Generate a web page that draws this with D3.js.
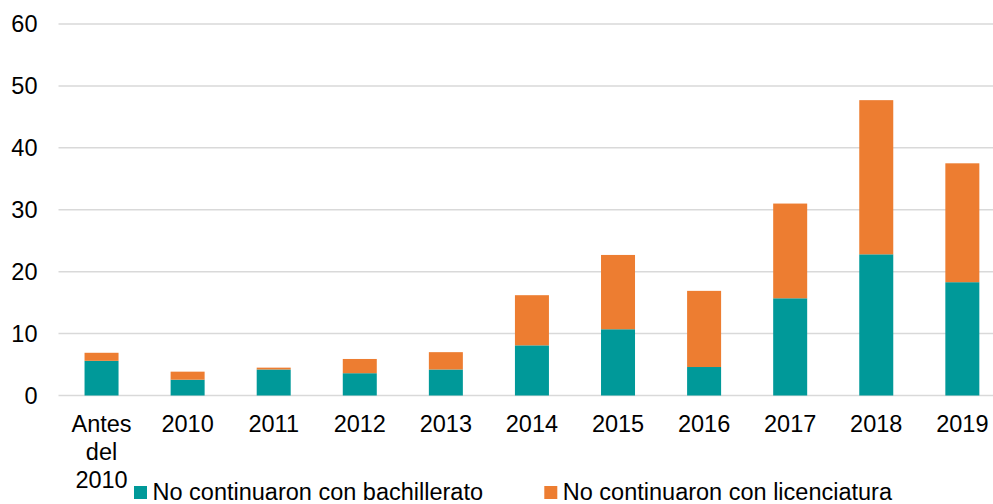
<html>
<head>
<style>
  body { margin: 0; background: #fff; }
  svg text { font-family: Arial, "Liberation Sans", sans-serif; fill: #000; }
</style>
</head>
<body>
<script src="https://cdn.jsdelivr.net/npm/d3@7"></script>
<script>
var categories = ["Antes del 2010", "2010", "2011", "2012", "2013", "2014", "2015", "2016", "2017", "2018", "2019"];
var bachillerato = [5.6, 2.55, 4.2, 3.6, 4.2, 8.1, 10.7, 4.6, 15.7, 22.8, 18.3];
var licenciatura = [1.3, 1.3, 0.3, 2.3, 2.8, 8.1, 12.0, 12.3, 15.3, 24.9, 19.2];
var seriesNames = ["No continuaron con bachillerato", "No continuaron con licenciatura"];
var yTicks = [0, 10, 20, 30, 40, 50, 60];

var width = 993, height = 504;
var colors = ["#009999", "#ED7D31"];
var fontSize = 23.5;

var svg = d3.select("body").append("svg")
  .attr("width", width)
  .attr("height", height);

var x = d3.scaleBand()
  .domain(categories)
  .range([58.5, 58.5 + 86.08 * 11])
  .paddingInner(0.605)
  .paddingOuter(0.3025);

var y = d3.scaleLinear().domain([0, 60]).range([395.5, 24]);

// grid
svg.append("g").selectAll("line")
  .data(yTicks)
  .join("line")
  .attr("x1", 58.5).attr("x2", width)
  .attr("y1", d => y(d)).attr("y2", d => y(d))
  .attr("stroke", "#d9d9d9")
  .attr("stroke-width", 1.5);

// y labels
svg.append("g").selectAll("text")
  .data(yTicks)
  .join("text")
  .attr("x", 37.5)
  .attr("y", d => y(d) + 8.4)
  .attr("text-anchor", "end")
  .attr("font-size", fontSize)
  .text(d => d);

// stacked bars
var rows = categories.map((c, i) => ({cat: c, b: bachillerato[i], l: licenciatura[i]}));
var stack = d3.stack().keys(["b", "l"])(rows);

svg.append("g").selectAll("g")
  .data(stack)
  .join("g")
  .attr("fill", (d, i) => colors[i])
  .selectAll("rect")
  .data(d => d)
  .join("rect")
  .attr("x", d => x(d.data.cat))
  .attr("width", x.bandwidth())
  .attr("y", d => y(d[1]))
  .attr("height", d => y(d[0]) - y(d[1]));

// x labels
var xl = svg.append("g").selectAll("text")
  .data(categories)
  .join("text")
  .attr("x", d => x(d) + x.bandwidth() / 2)
  .attr("y", 431.7)
  .attr("text-anchor", "middle")
  .attr("font-size", fontSize);

xl.each(function(d) {
  var words = d === "Antes del 2010" ? ["Antes", "del", "2010"] : [d];
  var t = d3.select(this);
  words.forEach(function(w, i) {
    t.append("tspan")
      .attr("x", x(d) + x.bandwidth() / 2)
      .attr("dy", i === 0 ? 0 : 28)
      .text(w);
  });
});

// legend
var legendX = [134, 544.3];
var lg = svg.append("g").selectAll("g")
  .data(seriesNames)
  .join("g")
  .attr("transform", (d, i) => "translate(" + legendX[i] + ",486)");

lg.append("rect")
  .attr("width", 13).attr("height", 13)
  .attr("fill", (d, i) => colors[i]);

lg.append("text")
  .attr("x", 18.5)
  .attr("y", 14)
  .attr("font-size", fontSize)
  .text(d => d);
</script>
</body>
</html>
